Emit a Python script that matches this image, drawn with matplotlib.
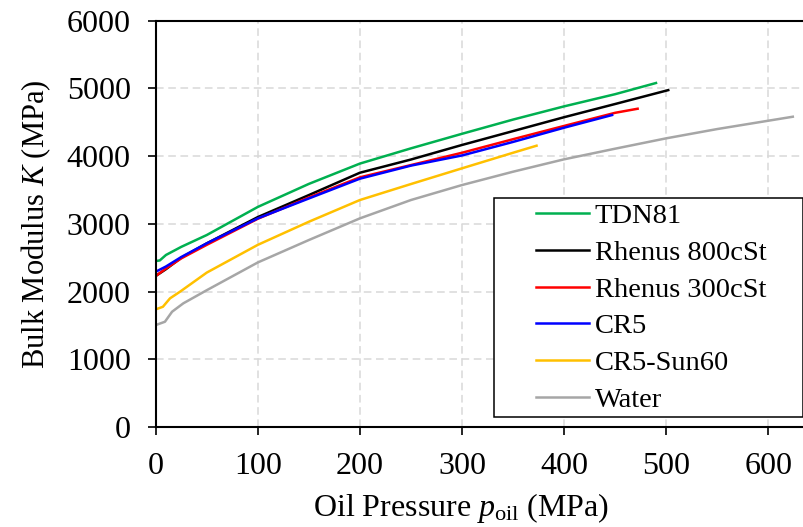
import matplotlib
matplotlib.use('Agg')
import matplotlib.pyplot as plt
from matplotlib.patches import Rectangle

plt.rcParams['font.family'] = ['Liberation Serif', 'DejaVu Serif']
plt.rcParams['mathtext.fontset'] = 'custom'
plt.rcParams['mathtext.rm'] = 'Liberation Serif'
plt.rcParams['mathtext.it'] = 'Liberation Serif:italic'

# data
tdn81_p = [0, 4, 10, 25, 50, 100, 150, 200, 250, 300, 350, 400, 450, 490]
tdn81_k = [2450, 2460, 2540, 2660, 2835, 3250, 3590, 3890, 4115, 4330, 4540, 4735, 4915, 5080]

rh800_p = [0, 10, 25, 50, 100, 150, 200, 250, 300, 350, 400, 450, 502]
rh800_k = [2230, 2330, 2500, 2712, 3100, 3425, 3755, 3950, 4165, 4370, 4575, 4770, 4975]

rh300_p = [0, 10, 25, 50, 100, 150, 200, 250, 300, 350, 400, 450, 472]
rh300_k = [2230, 2340, 2490, 2690, 3075, 3390, 3687, 3868, 4050, 4250, 4446, 4640, 4700]

cr5_p = [0, 10, 25, 50, 100, 150, 200, 250, 300, 350, 400, 447]
cr5_k = [2293, 2370, 2510, 2712, 3081, 3375, 3667, 3860, 4010, 4210, 4420, 4607]

sun60_p = [0, 7, 14, 24, 50, 100, 150, 200, 250, 300, 350, 373]
sun60_k = [1737, 1775, 1900, 2000, 2280, 2690, 3031, 3352, 3588, 3820, 4050, 4154]

water_p = [0, 9, 16, 27, 50, 100, 150, 200, 250, 300, 350, 400, 450, 500, 550, 600, 624]
water_k = [1505, 1554, 1702, 1826, 2020, 2430, 2761, 3081, 3352, 3573, 3770, 3953, 4110, 4263, 4400, 4523, 4582]

fig = plt.figure(figsize=(8.04, 5.27), dpi=100)
ax = fig.add_axes([0.1937, 0.1898, 0.8127, 0.7709])

lw = 1.8
ax.plot(tdn81_p, tdn81_k, color='#00B050', lw=lw, label='TDN81')
ax.plot(rh800_p, rh800_k, color='black', lw=lw, label='Rhenus 800cSt')
ax.plot(rh300_p, rh300_k, color='#FF0000', lw=lw, label='Rhenus 300cSt')
ax.plot(cr5_p, cr5_k, color='#0000FF', lw=lw, label='CR5')
ax.plot(sun60_p, sun60_k, color='#FFC000', lw=lw, label='CR5-Sun60')
ax.plot(water_p, water_k, color='#A6A6A6', lw=lw, label='Water')

ax.set_xlim(0, 640)
ax.set_ylim(0, 6000)
ax.set_xticks(range(0, 700, 100))
ax.set_yticks(range(0, 7000, 1000))
ax.grid(True, color='#D9D9D9', linestyle=(0, (5, 3)), lw=1.1)
ax.set_axisbelow(True)

for s in ['left', 'bottom', 'top']:
    ax.spines[s].set_linewidth(1.5)
ax.spines['right'].set_visible(False)
ax.tick_params(direction='out', length=6, width=1.2, labelsize=23, pad=12)

ax.set_xlabel('Oil Pressure $p_{\\mathrm{oil}}$ (MPa)', fontsize=23)
ax.xaxis.set_label_coords(0.468, -0.158)
ax.set_ylabel('Bulk Modulus $K$ (MPa)', fontsize=22, labelpad=10)

# legend box: white frame, content inset like the original
ax.add_patch(Rectangle((0.518, 0.0246), 0.472, 0.539, transform=ax.transAxes,
                       facecolor='white', edgecolor='black', lw=1.1, zorder=4))
leg = ax.legend(loc='center left', bbox_to_anchor=(0.5824, 0.293), borderaxespad=0,
                fontsize=20.5, frameon=False, handlelength=1.85, handletextpad=0.2,
                labelspacing=0.38, borderpad=0)
leg.set_zorder(5)

fig.savefig('out.png', dpi=100)
